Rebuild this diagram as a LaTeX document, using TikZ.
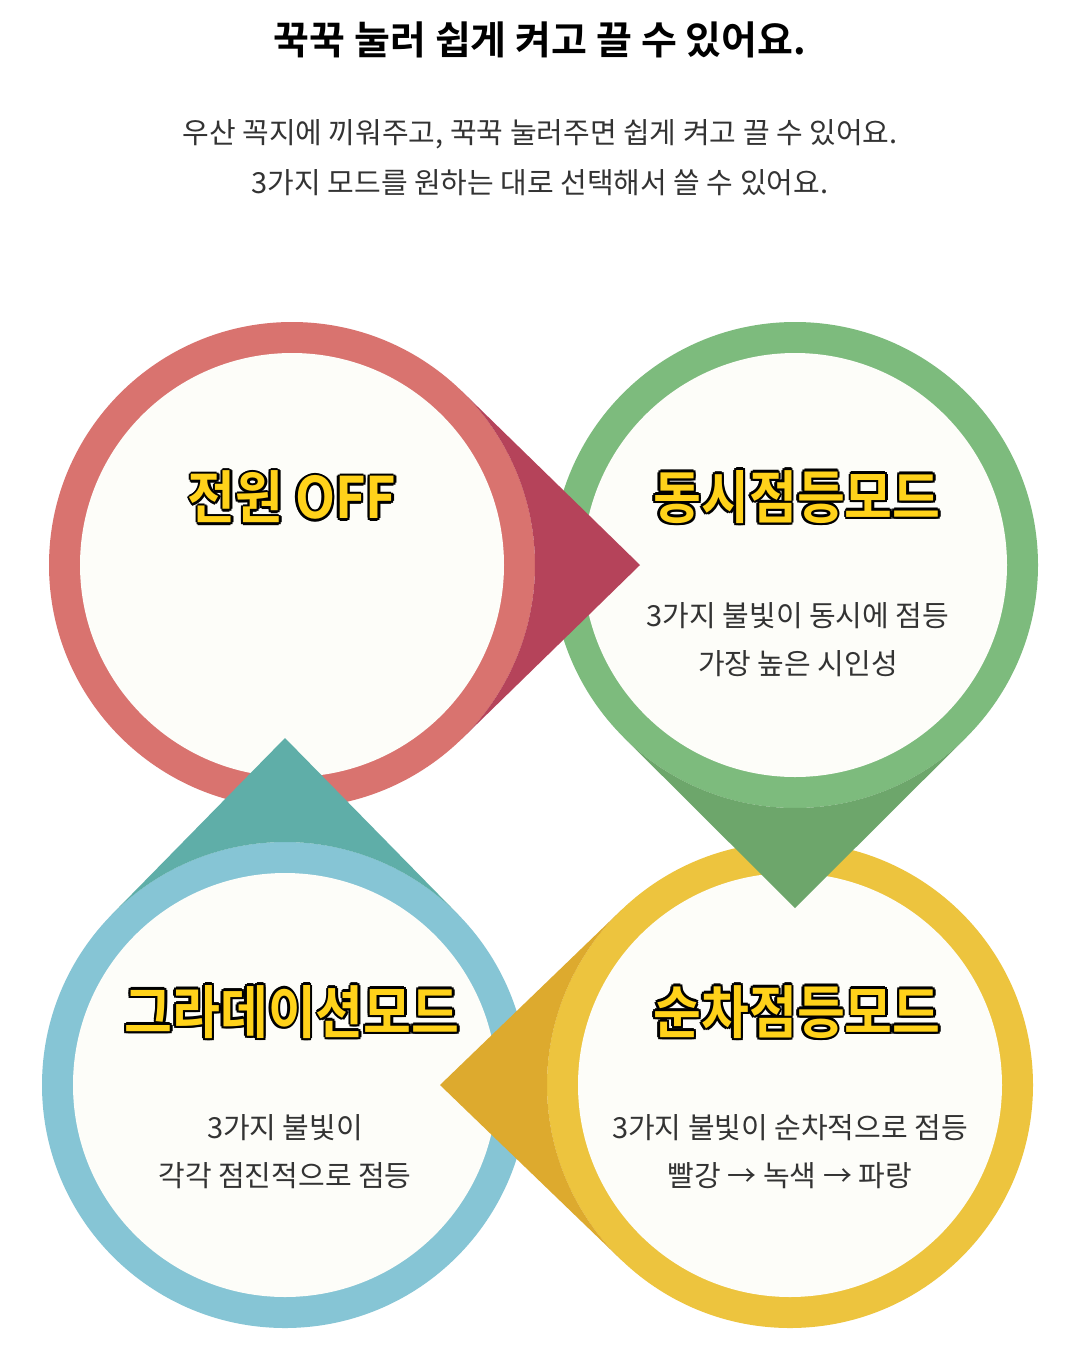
\documentclass[tikz,border=0pt]{standalone}
\usepackage{fontspec}
\setmainfont{Noto Sans CJK KR}[BoldFont=* Bold]
\definecolor{redr}{HTML}{D9736F}\definecolor{redd}{HTML}{B5435A}
\definecolor{grnr}{HTML}{7DBB7D}\definecolor{grnd}{HTML}{6DA66B}
\definecolor{ylwr}{HTML}{EDC43E}\definecolor{ylwd}{HTML}{DDAA2E}
\definecolor{blur}{HTML}{86C5D5}\definecolor{blud}{HTML}{5FAEA8}
\definecolor{face}{HTML}{FDFDF9}\definecolor{ttl}{HTML}{FFD21A}
\definecolor{txt}{HTML}{333333}
\newcommand{\outl}[3]{%
 \foreach \dx/\dy in {-2.5/0,2.5/0,0/-2.5,0/2.5,-1.8/-1.8,1.8/1.8,-1.8/1.8,1.8/-1.8}
   \node[ttlsty,text=black] at ({#1+\dx},{#2+\dy}) {#3};
 \node[ttlsty,text=ttl] at (#1,#2) {#3};}
\newcommand{\pointer}[6]{%
 \pgfmathsetmacro{\ang}{acos(#3/#5)}
 \fill[#6] ({#1+#5*cos(#4)},{#2+#5*sin(#4)}) -- ({#1+#3*cos(#4+\ang)},{#2+#3*sin(#4+\ang)})
   arc[start angle={#4+\ang},end angle={#4-\ang},radius=#3] -- cycle;}
\begin{document}
\begin{tikzpicture}[x=1pt,y=-1pt,
 ttlsty/.style={font=\bfseries\fontsize{52}{54}\selectfont,yscale=1.1,inner sep=0},
 body/.style={font=\fontsize{29}{48}\selectfont,text=txt,align=center,inner sep=0}]
\useasboundingbox[fill=white] (0,0) rectangle (1080,1350);
\node[font=\bfseries\fontsize{39}{44}\selectfont,text=black] (h) at (540,40) {꾹꾹 눌러 쉽게 켜고 끌 수 있어요.};
\node[font=\fontsize{29}{50}\selectfont,text=txt,align=center] (s) at (540,158) {우산 꼭지에 끼워주고, 꾹꾹 눌러주면 쉽게 켜고 끌 수 있어요.\\3가지 모드를 원하는 대로 선택해서 쓸 수 있어요.};
\foreach \cx/\cy/\c in {292/565/redr,795/565/grnr,790/1085/ylwr,285/1085/blur}{
  \fill[\c] (\cx,\cy) circle[radius=243];
  \fill[face] (\cx,\cy) circle[radius=212];}
\pointer{292}{565}{243}{0}{348}{redd}
\pointer{795}{565}{243}{90}{343}{grnd}
\pointer{790}{1085}{243}{180}{350}{ylwd}
\pointer{285}{1085}{243}{-90}{347}{blud}
\outl{292}{497}{전원 OFF}
\outl{797}{497}{동시점등모드}
\outl{292}{1012}{그라데이션모드}
\outl{797}{1012}{순차점등모드}
\node[body] (g) at (798,640) {3가지 불빛이 동시에 점등\\가장 높은 시인성};
\node[body] (y) at (790,1152) {3가지 불빛이 순차적으로 점등\\빨강 → 녹색 → 파랑};
\node[body] (b) at (285,1152) {3가지 불빛이\\각각 점진적으로 점등};
\end{tikzpicture}
\end{document}
